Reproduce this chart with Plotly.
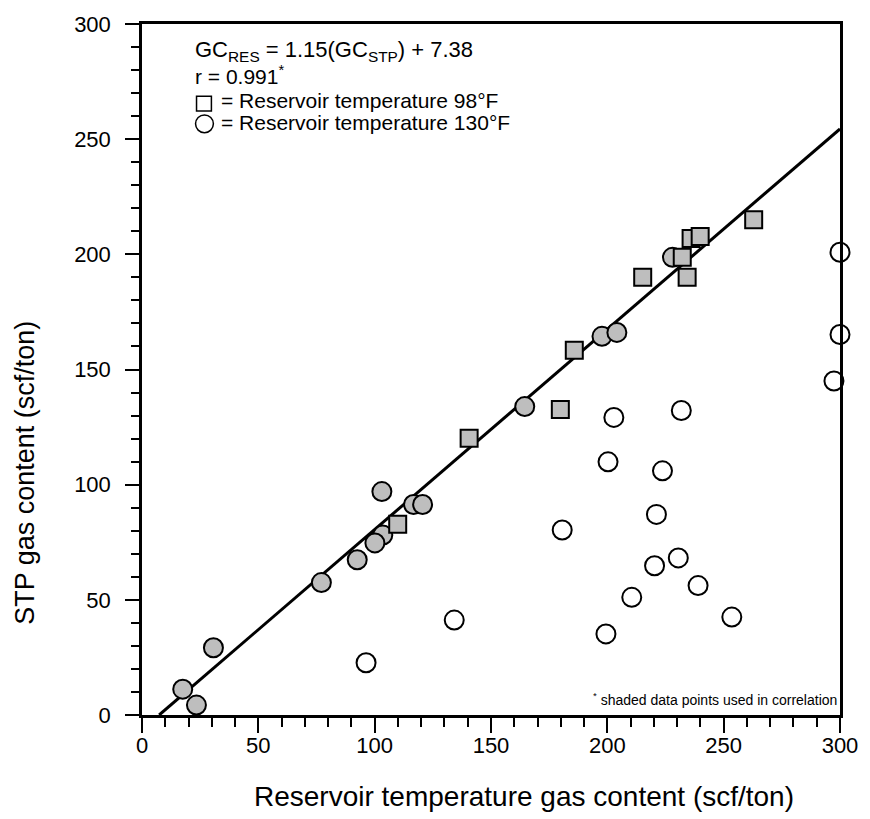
import plotly.graph_objects as go

# ---- data ----
sq98_x = [215.2, 234.3, 232.2, 236.0, 239.9, 262.9, 185.8, 179.8, 140.6, 109.9]
sq98_y = [190.1, 190.1, 198.7, 206.9, 207.7, 215.0, 158.4, 132.6, 120.2, 82.8]

c130_shaded_x = [228.0, 197.7, 204.1, 164.5, 103.1, 116.7, 120.6, 103.5, 100.1, 92.5, 77.1, 30.7, 17.5, 23.4]
c130_shaded_y = [198.7, 164.4, 166.1, 133.9, 97.0, 91.4, 91.4, 78.1, 74.7, 67.4, 57.5, 29.2, 11.2, 4.3]

c130_open_x = [96.3, 134.2, 180.6, 199.4, 200.3, 202.8, 210.5, 220.3, 221.1, 223.7, 230.5, 231.8, 239.0, 253.5, 300.0, 300.0, 297.4]
c130_open_y = [22.7, 41.2, 80.3, 35.2, 109.9, 129.2, 51.1, 64.8, 87.1, 106.0, 68.2, 132.2, 56.2, 42.5, 200.9, 165.2, 145.0]

slope = 1.15
intercept = 7.38
fit_x = [intercept, 300.0]

x_ticks = [0, 50, 100, 150, 200, 250, 300]
y_ticks = [0, 50, 100, 150, 200, 250, 300]

FONT = "Liberation Sans, Arial, Helvetica, sans-serif"
SHADE = "#bebebe"

fit_y = [(v - intercept) / slope for v in fit_x]

fig = go.Figure()
fig.add_trace(go.Scatter(x=fit_x, y=fit_y, mode="lines",
                         line=dict(color="black", width=3), cliponaxis=False))
fig.add_trace(go.Scatter(x=c130_open_x, y=c130_open_y, mode="markers", cliponaxis=False,
                         marker=dict(symbol="circle", size=19, color="white",
                                     line=dict(color="black", width=2))))
fig.add_trace(go.Scatter(x=c130_shaded_x, y=c130_shaded_y, mode="markers", cliponaxis=False,
                         marker=dict(symbol="circle", size=19, color=SHADE,
                                     line=dict(color="black", width=2))))
fig.add_trace(go.Scatter(x=sq98_x, y=sq98_y, mode="markers", cliponaxis=False,
                         marker=dict(symbol="square", size=17, color=SHADE,
                                     line=dict(color="black", width=2))))

L, R, T, B = 142, 24, 16, 104
W, H = 870, 819
pw, ph = W - L - R, H - T - B

def px(x):
    return (x - L) / pw

def py(y):
    return (H - B - y) / ph

ann = []
def add(text, x, y, size, xanchor="left", **kw):
    ann.append(dict(text=text, x=px(x), y=py(y), xref="paper", yref="paper",
                    xanchor=xanchor, yanchor="middle", showarrow=False,
                    font=dict(size=size, family=FONT, color="black"), **kw))

add("GC<sub>RES</sub> = 1.15(GC<sub>STP</sub>) + 7.38", 193, 43, 22)
add("r = 0.991<sup>*</sup>", 193, 68, 21)
add("= Reservoir temperature 98\u00b0F", 220, 93, 21)
add("= Reservoir temperature 130\u00b0F", 220, 116, 21)
add("<sup>*</sup> shaded data points used in correlation", 845, 699, 14, xanchor="right")
add("Reservoir temperature gas content (scf/ton)", 527, 797, 28, xanchor="center")
ann.append(dict(text="STP gas content (scf/ton)", x=px(24), y=py(470), xref="paper", yref="paper",
                xanchor="center", yanchor="middle", textangle=-90, showarrow=False,
                font=dict(size=27, family=FONT, color="black")))

shapes = [
    dict(type="rect", xref="paper", yref="paper", x0=px(197), x1=px(212), y0=py(104), y1=py(89),
         line=dict(color="black", width=1.5), fillcolor="white"),
    dict(type="circle", xref="paper", yref="paper", x0=px(196), x1=px(214), y0=py(126), y1=py(108),
         line=dict(color="black", width=1.5), fillcolor="white"),
]

axis_common = dict(showgrid=False, zeroline=False, showline=True, linewidth=2.5,
                   linecolor="black", mirror=True, ticks="outside", tickwidth=2,
                   tickcolor="black", tickfont=dict(size=22, family=FONT, color="black"))

fig.update_layout(
    width=W, height=H, margin=dict(l=L, r=R, t=T, b=B),
    plot_bgcolor="white", paper_bgcolor="white", showlegend=False,
    annotations=ann, shapes=shapes,
    xaxis=dict(range=[0, 300], tickvals=x_ticks, ticktext=[str(v) for v in x_ticks],
               ticklen=15, ticklabelstandoff=-6,
               minor=dict(dtick=10, ticklen=9, tickwidth=2, tickcolor="black", ticks="outside"),
               **axis_common),
    yaxis=dict(range=[0, 300], tickvals=y_ticks, ticktext=[str(v) for v in y_ticks],
               ticklen=14, ticklabelstandoff=10,
               minor=dict(dtick=10, ticklen=8, tickwidth=2, tickcolor="black", ticks="outside"),
               **axis_common),
)

fig.write_html("out.html")
